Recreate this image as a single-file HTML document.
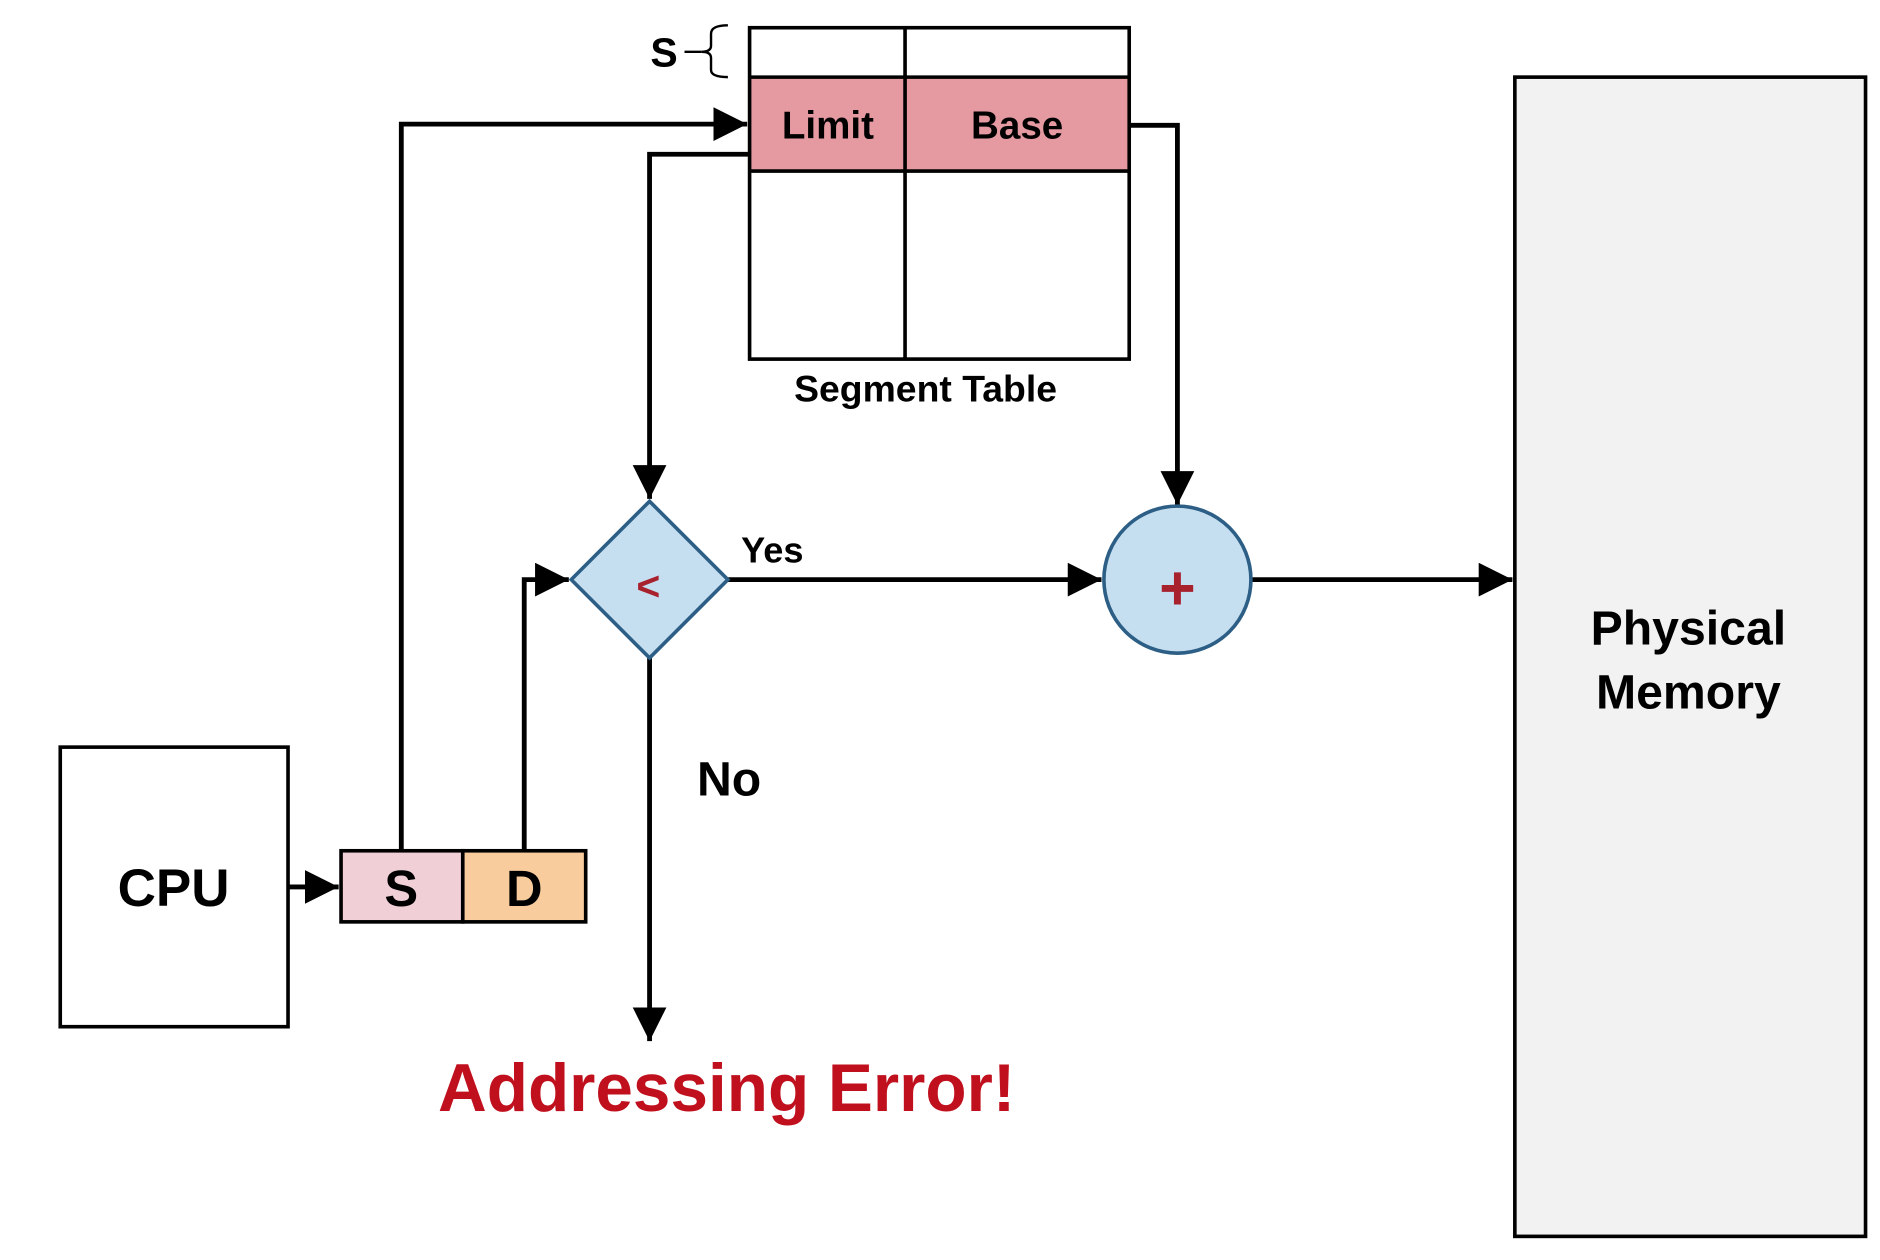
<!DOCTYPE html>
<html><head><meta charset="utf-8"><style>
html,body{margin:0;padding:0;background:#fff;}
svg{display:block;}
text{font-family:"Liberation Sans",Arial,sans-serif;font-weight:bold;}
</style></head><body>
<svg width="1880" height="1260" viewBox="0 0 1560 1045.6" preserveAspectRatio="none" xmlns="http://www.w3.org/2000/svg">
<defs>
<marker id="a" viewBox="0 0 10 10" refX="10" refY="5" markerWidth="7" markerHeight="7" orient="auto" markerUnits="strokeWidth">
<path d="M0,0 L10,5 L0,10 z" fill="#000"/></marker>
</defs>
<rect x="1257" y="64" width="291" height="962" fill="#f2f2f2" stroke="#000" stroke-width="3"/>
<text x="1401" y="535" font-size="40" text-anchor="middle">Physical</text>
<text x="1401" y="588" font-size="40" text-anchor="middle">Memory</text>
<rect x="622" y="64" width="315" height="78" fill="#e59aa2"/>
<rect x="622" y="23" width="315" height="275" fill="none" stroke="#000" stroke-width="3"/>
<line x1="622" y1="64" x2="937" y2="64" stroke="#000" stroke-width="3"/>
<line x1="622" y1="142" x2="937" y2="142" stroke="#000" stroke-width="3"/>
<line x1="751" y1="23" x2="751" y2="298" stroke="#000" stroke-width="3"/>
<text x="687" y="115" font-size="32" text-anchor="middle">Limit</text>
<text x="844" y="115" font-size="32" text-anchor="middle">Base</text>
<text x="768" y="333" font-size="31" text-anchor="middle">Segment Table</text>
<text x="551" y="55" font-size="34" text-anchor="middle">S</text>
<path d="M604,21 Q590,21 590,28 L590,38 Q590,43 582,43 Q590,43 590,48 L590,58 Q590,64 604,64" fill="none" stroke="#000" stroke-width="2"/>
<line x1="568" y1="43" x2="582" y2="43" stroke="#000" stroke-width="2"/>
<rect x="50" y="620" width="189" height="232" fill="#fff" stroke="#000" stroke-width="3"/>
<text x="144" y="752" font-size="44" text-anchor="middle">CPU</text>
<rect x="283" y="706" width="101" height="59" fill="#f0d0d6" stroke="#000" stroke-width="3"/>
<rect x="384" y="706" width="102" height="59" fill="#f9cc9d" stroke="#000" stroke-width="3"/>
<text x="333" y="752" font-size="42" text-anchor="middle">S</text>
<text x="435" y="752" font-size="42" text-anchor="middle">D</text>
<g fill="none" stroke="#000" stroke-width="4">
<polyline points="239,736 281,736" marker-end="url(#a)"/>
<polyline points="333,706 333,103 620,103" marker-end="url(#a)"/>
<polyline points="622,128 539,128 539,414" marker-end="url(#a)"/>
<polyline points="937,104 977,104 977,419" marker-end="url(#a)"/>
<polyline points="435,706 435,481 472,481" marker-end="url(#a)"/>
<polyline points="604,481 914,481" marker-end="url(#a)"/>
<polyline points="1038,481 1255,481" marker-end="url(#a)"/>
<polyline points="539,546 539,864" marker-end="url(#a)"/>
</g>
<polygon points="539,416 604,481 539,546 474,481" fill="#c5dff0" stroke="#2d5f86" stroke-width="3"/>
<text x="538" y="498" font-size="34" fill="#a8222e" text-anchor="middle">&lt;</text>
<circle cx="977" cy="481" r="61" fill="#c5dff0" stroke="#2d5f86" stroke-width="3"/>
<text x="977" y="506" font-size="52" fill="#a8222e" text-anchor="middle">+</text>
<text x="615" y="467" font-size="30">Yes</text>
<text x="605" y="660" font-size="40" text-anchor="middle">No</text>
<text x="603" y="922" font-size="56" fill="#c0101e" text-anchor="middle">Addressing Error!</text>
</svg>
</body></html>
